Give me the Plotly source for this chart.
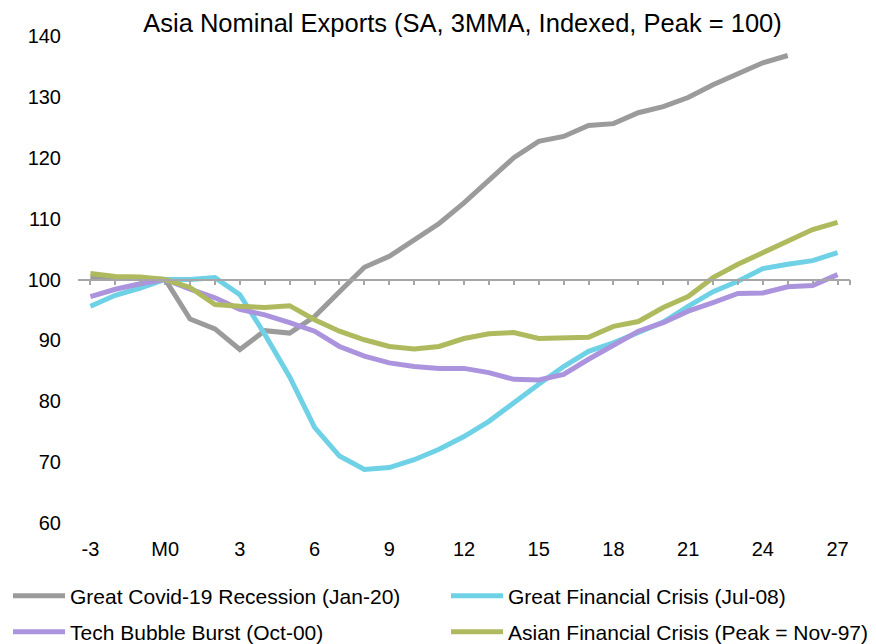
import plotly.graph_objects as go

# months relative to the peak (M0)
months = list(range(-3, 28))
tick_vals = list(range(-3, 28, 3))
tick_text = ["-3", "M0", "3", "6", "9", "12", "15", "18", "21", "24", "27"]

covid = [100.5, 100.2, 100.2, 100.0, 93.5, 91.9, 88.5, 91.6, 91.2, 93.9,
         98.0, 102.0, 103.8, 106.5, 109.2, 112.6, 116.4, 120.0, 122.7, 123.5,
         125.3, 125.6, 127.4, 128.4, 129.9, 132.0, 133.8, 135.6, 136.8, None, None]
gfc = [95.6, 97.4, 98.6, 100.0, 100.0, 100.3, 97.5, 91.0, 84.0, 75.7,
       71.0, 68.8, 69.1, 70.4, 72.1, 74.2, 76.7, 79.8, 82.8, 85.7,
       88.2, 89.6, 91.4, 93.0, 95.6, 98.0, 99.7, 101.8, 102.5, 103.1, 104.4]
tech = [97.2, 98.4, 99.3, 100.0, 98.4, 97.0, 95.1, 94.2, 92.9, 91.5,
        89.0, 87.4, 86.3, 85.7, 85.4, 85.4, 84.7, 83.6, 83.5, 84.4,
        86.9, 89.3, 91.5, 92.9, 94.8, 96.2, 97.7, 97.8, 98.8, 99.0, 100.8]
asian = [101.0, 100.5, 100.4, 100.0, 98.7, 95.9, 95.6, 95.4, 95.7, 93.4,
         91.5, 90.1, 89.0, 88.6, 89.0, 90.3, 91.1, 91.3, 90.3, 90.3,
         90.5, 92.3, 93.1, 95.4, 97.2, 100.3, 102.5, 104.4, 106.2, 108.2, 109.4]

series = [
    ("Great Covid-19 Recession (Jan-20)", covid, "#9B9B9B", "legend"),
    ("Great Financial Crisis (Jul-08)", gfc, "#6FD1E6", "legend2"),
    ("Tech Bubble Burst (Oct-00)", tech, "#AB94DD", "legend3"),
    ("Asian Financial Crisis (Peak = Nov-97)", asian, "#AFBA5E", "legend4"),
]

FONT = "Liberation Sans, Arial, sans-serif"

# the html page puts an 8px body margin around the figure
W, H, PAD = 868, 636, 8

fig = go.Figure()

for name, vals, color, leg in series:
    fig.add_trace(
        go.Scatter(
            x=months,
            y=vals,
            name=name,
            mode="lines",
            line=dict(color=color, width=5),
            legend=leg
        )
    )


def legend_at(px, py):
    # one legend entry, placed by pixel position in the page
    return dict(
        xref="container",
        yref="container",
        x=max(px - PAD, 0) / W,
        y=1 - (py - PAD) / H,
        xanchor="left",
        yanchor="middle",
        font=dict(family=FONT, size=21, color="#000000"),
        bgcolor="rgba(0,0,0,0)",
        itemwidth=52,
    )


fig.update_layout(
    width=W,
    height=H,
    paper_bgcolor="white",
    plot_bgcolor="white",
    margin=dict(l=70, r=26, t=28, b=121, autoexpand=False),
    font=dict(family=FONT, size=20, color="#000000"),
    title=dict(
        text="Asia Nominal Exports (SA, 3MMA, Indexed, Peak = 100)",
        x=(462.5 - PAD) / W,
        xanchor="center",
        y=1 - (23.5 - PAD) / H,
        yanchor="middle",
        font=dict(family=FONT, size=25.5, color="#000000")
    ),
    xaxis=dict(
        range=[-3.5, 27.5],
        tickvals=tick_vals,
        ticktext=tick_text,
        showgrid=False,
        zeroline=False,
        showline=False,
        ticks="",
        ticklabelstandoff=12,
    ),
    # axis line crossing at 100 with monthly tick marks
    xaxis2=dict(
        overlaying="x",
        anchor="free",
        position=0.5,
        range=[-3.5, 27.5],
        tickvals=months + [27.5],
        showticklabels=False,
        showgrid=False,
        zeroline=False,
        showline=True,
        linecolor="#A6A6A6",
        linewidth=1.5,
        ticks="outside",
        ticklen=5,
        tickcolor="#A6A6A6",
        tickwidth=1.5,
    ),
    yaxis=dict(
        range=[60, 140],
        tickvals=[60, 70, 80, 90, 100, 110, 120, 130, 140],
        showgrid=False,
        zeroline=False,
        showline=False,
        ticklabelstandoff=16,
    ),
    legend=legend_at(8, 596),
    legend2=legend_at(446, 596),
    legend3=legend_at(8, 632),
    legend4=legend_at(446, 632),
)

# invisible helper trace so the overlay axis is drawn
fig.add_trace(
    go.Scatter(x=[-3.5], y=[None], xaxis="x2", showlegend=False, hoverinfo="skip")
)

fig.write_html("out.html")
